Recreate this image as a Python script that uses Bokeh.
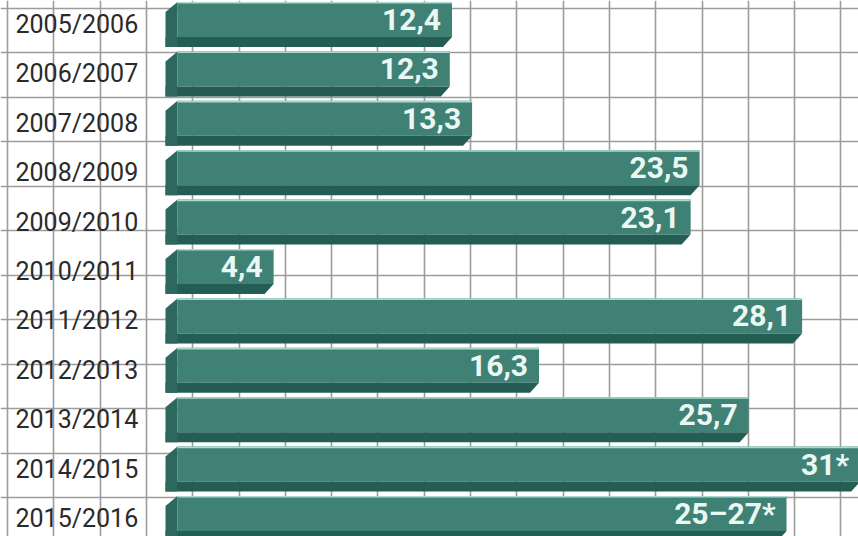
import numpy as np
from bokeh.plotting import figure
from bokeh.models import Range1d, Grid, FixedTicker, ColumnDataSource
from bokeh.core.properties import value
from bokeh.embed import file_html
from bokeh.resources import INLINE

# ---- data ----
seasons = ["2005/2006", "2006/2007", "2007/2008", "2008/2009", "2009/2010",
           "2010/2011", "2011/2012", "2012/2013", "2013/2014", "2014/2015",
           "2015/2016"]
amounts = [12.4, 12.3, 13.3, 23.5, 23.1, 4.4, 28.1, 16.3, 25.7, 30.7, 27.4]
value_labels = ["12,4", "12,3", "13,3", "23,5", "23,1", "4,4", "28,1",
                "16,3", "25,7", "31*", "25–27*"]

# ---- layout (pixels -> data units) ----
W, H = 858, 536
PXX = 22.3      # px per unit along x
X0 = 175        # px position of zero
ROW = 49.4      # px per row
Y0 = 24         # px position of first row centre

p = figure(width=W, height=H,
           x_range=Range1d(-X0 / PXX, (W - X0) / PXX),
           y_range=Range1d((H - Y0) / ROW, -Y0 / ROW),
           output_backend="svg", toolbar_location=None,
           x_axis_location=None, y_axis_location=None,
           min_border=0, outline_line_color=None,
           background_fill_color="white", border_fill_color="white")
p.grid.visible = False

gx = [(7 + 46.3 * k - X0) / PXX for k in range(0, 20)]
gy = [(8 + 44.45 * k - Y0) / ROW for k in range(0, 13)]
p.add_layout(Grid(dimension=0, ticker=FixedTicker(ticks=gx),
                  grid_line_color="#9c9c9c", grid_line_width=1.6))
p.add_layout(Grid(dimension=1, ticker=FixedTicker(ticks=gy),
                  grid_line_color="#9c9c9c", grid_line_width=1.6))

n = len(seasons)
idx = np.arange(n)
top = idx - 22.5 / ROW
face_bot = top + 35 / ROW
bot = idx + 22.5 / ROW
bev_l = -10 / PXX
face_l = 2 / PXX
vals = np.array(amounts)

# face
p.quad(left=face_l, right=vals, top=top, bottom=face_bot,
       fill_color="#3f8175", line_color=None)
# bottom shadow
sh_xs = [[bev_l, v, v - 9 / PXX, bev_l] for v in vals]
sh_ys = [[fb, fb, b, b] for fb, b in zip(face_bot, bot)]
p.patches(sh_xs, sh_ys, fill_color="#245d53", line_color=None)
# left bevel
bv_xs = [[bev_l, face_l, face_l, bev_l] for _ in vals]
bv_ys = [[t + 10 / ROW, t, b, b] for t, b in zip(top, bot)]
p.patches(bv_xs, bv_ys, fill_color="#2c685d", line_color=None)
# top highlight
p.segment(x0=face_l, y0=top + 0.8 / ROW, x1=vals, y1=top + 0.8 / ROW,
          line_color="#a9dbd1", line_width=1.6)

# value labels
src = ColumnDataSource(dict(x=vals, y=idx - 5 / ROW, t=value_labels))
p.text(x="x", y="y", text="t", source=src, text_align="right",
       text_baseline="middle", x_offset=-11,
       text_font=value("Roboto"), text_font_style="bold",
       text_font_size="30px", text_color="#eaf8f3")

# season labels
src2 = ColumnDataSource(dict(x=[(15 - X0) / PXX] * n, y=idx, t=seasons))
p.text(x="x", y="y", text="t", source=src2, text_align="left",
       text_baseline="middle", text_font=value("Roboto"),
       text_font_size="25px", text_color="#2a2a2a")

open("out.html", "w").write(file_html(p, INLINE))
